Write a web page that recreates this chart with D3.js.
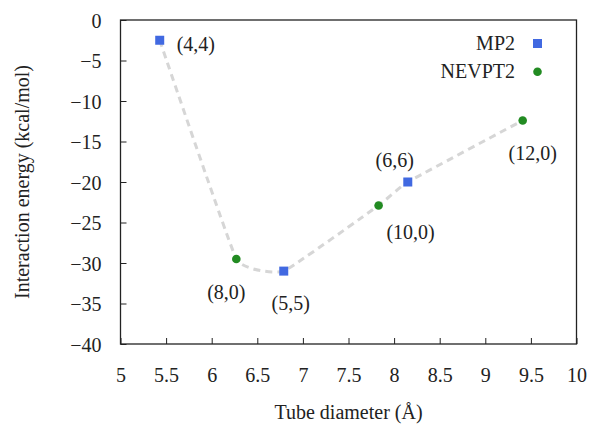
<!DOCTYPE html>
<html>
<head>
<meta charset="utf-8">
<script src="https://cdn.jsdelivr.net/npm/d3@7"></script>
<style>
  body { margin: 0; background: #fff; }
  svg text { font-family: "Liberation Serif", "Tinos", "Times New Roman", "Noto Serif", "DejaVu Serif", "FreeSerif", "Nimbus Roman", serif; fill: #222; }
</style>
</head>
<body>
<div id="vis"></div>
<script>
// data
var mp2Names = ["(4,4)", "(5,5)", "(6,6)"];
var mp2Diam = [5.43, 6.79, 8.15];
var mp2Energy = [-2.5, -31.0, -20.0];

var nevNames = ["(8,0)", "(10,0)", "(12,0)"];
var nevDiam = [6.27, 7.83, 9.41];
var nevEnergy = [-29.5, -22.9, -12.4];

var xTicks = [5, 5.5, 6, 6.5, 7, 7.5, 8, 8.5, 9, 9.5, 10];
var yTicks = [0, -5, -10, -15, -20, -25, -30, -35, -40];

var w = 591, h = 434,
    margin = {top: 20, right: 14.5, bottom: 90, left: 120.5},
    fontSize = 20;

var svg = d3.select("#vis").append("svg")
    .attr("width", w)
    .attr("height", h);

var x = d3.scaleLinear().domain([5, 10]).range([margin.left, w - margin.right]);
var y = d3.scaleLinear().domain([-40, 0]).range([h - margin.bottom, margin.top]);

var mp2 = mp2Diam.map(function(d, i) { return {x: d, y: mp2Energy[i], name: mp2Names[i]}; });
var nev = nevDiam.map(function(d, i) { return {x: d, y: nevEnergy[i], name: nevNames[i]}; });
var all = mp2.concat(nev).sort(function(a, b) { return a.x - b.x; });

// axes, ticks pointing inward
var xAxis = svg.append("g")
    .attr("transform", "translate(0," + y(-40) + ")")
    .call(d3.axisBottom(x).tickValues(xTicks).tickSizeInner(-6).tickSizeOuter(0).tickPadding(24)
      .tickFormat(function(d) { return d; }));
var yAxis = svg.append("g")
    .attr("transform", "translate(" + x(5) + ",0)")
    .call(d3.axisLeft(y).tickValues(yTicks).tickSizeInner(-6).tickSizeOuter(0).tickPadding(19)
      .tickFormat(function(d) { return d < 0 ? "\u2212" + (-d) : d; }));

[xAxis, yAxis].forEach(function(g) {
  g.attr("font-family", null).attr("font-size", fontSize);
  g.select(".domain").remove();
  g.selectAll("line").attr("stroke", "#222").attr("stroke-width", 1);
  g.selectAll("text").attr("fill", "#222");
});
yAxis.selectAll("text").attr("dy", "0.35em");

svg.append("rect")
    .attr("x", x(5)).attr("y", y(0))
    .attr("width", x(10) - x(5)).attr("height", y(-40) - y(0))
    .attr("fill", "none").attr("stroke", "#222").attr("stroke-width", 1.3);

// axis titles
svg.append("text")
    .attr("x", (x(5) + x(10)) / 2).attr("y", 419)
    .attr("text-anchor", "middle").attr("font-size", fontSize)
    .text("Tube diameter (\u00C5)");
svg.append("text")
    .attr("transform", "translate(29," + (y(0) + y(-40)) / 2 + ") rotate(-90)")
    .attr("text-anchor", "middle").attr("font-size", fontSize)
    .text("Interaction energy (kcal/mol)");

// dashed smooth guide line
var line = d3.line()
    .x(function(d) { return x(d.x); })
    .y(function(d) { return y(d.y); })
    .curve(d3.curveCardinal.tension(0.7));
svg.append("path")
    .datum(all)
    .attr("d", line)
    .attr("fill", "none")
    .attr("stroke", "#d6d6d6")
    .attr("stroke-width", 3)
    .attr("stroke-dasharray", "7,5");

// markers
svg.selectAll("rect.mp2")
  .data(mp2).enter().append("rect")
    .attr("class", "mp2")
    .attr("x", function(d) { return x(d.x) - 4.5; })
    .attr("y", function(d) { return y(d.y) - 4.5; })
    .attr("width", 9).attr("height", 9)
    .attr("fill", "#4169e1");
svg.selectAll("circle.nev")
  .data(nev).enter().append("circle")
    .attr("class", "nev")
    .attr("cx", function(d) { return x(d.x); })
    .attr("cy", function(d) { return y(d.y); })
    .attr("r", 4.3)
    .attr("fill", "#228b22");

// point labels: offset from the marker
var labelOffset = {
  "(4,4)": [17, 11, "start"],
  "(5,5)": [7, 39, "middle"],
  "(6,6)": [-13, -15, "middle"],
  "(8,0)": [-10, 40, "middle"],
  "(10,0)": [32, 34, "middle"],
  "(12,0)": [10, 40, "middle"]
};
svg.selectAll("text.lbl")
  .data(all).enter().append("text")
    .attr("class", "lbl")
    .attr("x", function(d) { return x(d.x) + labelOffset[d.name][0]; })
    .attr("y", function(d) { return y(d.y) + labelOffset[d.name][1]; })
    .attr("text-anchor", function(d) { return labelOffset[d.name][2]; })
    .attr("font-size", fontSize)
    .text(function(d) { return d.name; });

// legend
var legend = svg.append("g");
legend.append("text").attr("x", 515).attr("y", 50).attr("text-anchor", "end")
    .attr("font-size", fontSize).text("MP2");
legend.append("rect").attr("x", 533).attr("y", 39).attr("width", 9).attr("height", 9)
    .attr("fill", "#4169e1");
legend.append("text").attr("x", 515).attr("y", 78).attr("text-anchor", "end")
    .attr("font-size", fontSize).text("NEVPT2");
legend.append("circle").attr("cx", 537.5).attr("cy", 71.7).attr("r", 4.3)
    .attr("fill", "#228b22");
</script>
</body>
</html>
